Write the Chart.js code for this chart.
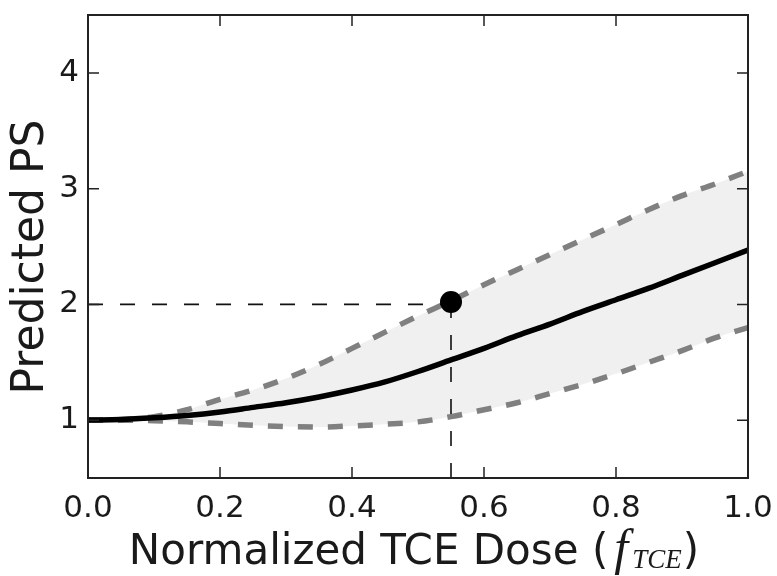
<!DOCTYPE html>
<html><head><meta charset="utf-8">
<script src="https://cdn.jsdelivr.net/npm/chart.js@4"></script>
<style>html,body{margin:0;padding:0;background:#fff}</style>
</head><body>
<canvas id="c" width="777" height="576"></canvas>
<script>
// ---- data ----
const doseValues = [0,0.05,0.1,0.15,0.2,0.25,0.3,0.35,0.4,0.45,0.5,0.55,0.6,0.65,0.7,0.75,0.8,0.85,0.9,0.95,1.0];
const meanPS  = [1.00,1.005,1.02,1.04,1.07,1.11,1.15,1.20,1.26,1.33,1.42,1.52,1.62,1.73,1.83,1.94,2.04,2.14,2.25,2.36,2.47];
const upperPS = [1.00,1.005,1.03,1.09,1.18,1.26,1.36,1.48,1.62,1.76,1.90,2.03,2.17,2.30,2.43,2.56,2.69,2.82,2.94,3.04,3.15];
const lowerPS = [1.00,1.00,0.995,0.985,0.97,0.955,0.945,0.94,0.95,0.965,0.985,1.03,1.09,1.15,1.23,1.31,1.40,1.50,1.60,1.71,1.80];
const markerDose = [0.55];
const markerPS = [2.02];
const guideLevel = [2.0];
const xTicks = [0,0.2,0.4,0.6,0.8,1.0];
const yTicks = [1,2,3,4];
const xRange = [0,1];
const yRange = [0.5,4.5];
const xTitle = 'Normalized TCE Dose (';
const xTitleMath = 'f';
const xTitleSub = 'TCE';
const xTitleEnd = ')';
const yTitle = 'Predicted PS';

const pts = (xs, ys) => xs.map((x,i)=>({x, y: ys[i]}));
const TXT = '#1a1a1a';

const framePlugin = {
  id: 'frame',
  afterDatasetsDraw(chart) {
    const {ctx, chartArea: a, scales} = chart;
    ctx.save();
    ctx.strokeStyle = '#222';
    ctx.lineWidth = 1.5;
    ctx.beginPath();
    xTicks.forEach(v => {
      const p = scales.x.getPixelForValue(v);
      ctx.moveTo(p, a.bottom); ctx.lineTo(p, a.bottom - 11);
      ctx.moveTo(p, a.top); ctx.lineTo(p, a.top + 11);
    });
    yTicks.forEach(v => {
      const p = scales.y.getPixelForValue(v);
      ctx.moveTo(a.left, p); ctx.lineTo(a.left + 11, p);
      ctx.moveTo(a.right, p); ctx.lineTo(a.right - 11, p);
    });
    ctx.stroke();
    ctx.lineWidth = 2;
    ctx.strokeRect(a.left, a.top, a.right - a.left, a.bottom - a.top);
    ctx.restore();
  },
  afterDraw(chart) {
    const {ctx, chartArea: a} = chart;
    ctx.save();
    ctx.fillStyle = TXT;
    ctx.textBaseline = 'alphabetic';
    // x title with math part
    const fMain = '42px "DejaVu Sans"';
    const fMath = 'italic 50px "Liberation Serif"';
    const fSub = 'italic 27px "Liberation Serif"';
    ctx.font = fMain; const w1 = ctx.measureText(xTitle).width; const w4 = ctx.measureText(xTitleEnd).width;
    const gapBefore = 6, wF = 18;
    ctx.font = fSub; const w3 = ctx.measureText(xTitleSub).width;
    const total = w1 + gapBefore + wF + w3 + 1 + w4;
    let x = 414 - total / 2;
    const base = 564;
    ctx.textAlign = 'left';
    ctx.font = fMain; ctx.fillText(xTitle, x, base); x += w1 + gapBefore;
    ctx.font = fMath; ctx.fillText(xTitleMath, x, base); x += wF;
    ctx.font = fSub; ctx.fillText(xTitleSub, x, base + 4); x += w3 + 1;
    ctx.font = fMain; ctx.fillText(xTitleEnd, x, base);
    // y title
    ctx.translate(43, 257);
    ctx.rotate(-Math.PI / 2);
    ctx.textAlign = 'center';
    ctx.font = '44px "DejaVu Sans"';
    ctx.fillText(yTitle, 0, 0);
    ctx.restore();
  }
};

new Chart(document.getElementById('c'), {
  type: 'line',
  data: {
    datasets: [
      { data: pts(markerDose, markerPS), showLine: false, pointRadius: 11, pointBackgroundColor: '#000', pointBorderWidth: 0, order: 0 },
      { data: [{x: xRange[0], y: guideLevel[0]}, {x: markerDose[0], y: guideLevel[0]}], borderColor: '#111', borderWidth: 1.6, borderDash: [15,17], pointRadius: 0, order: 1 },
      { data: [{x: markerDose[0], y: yRange[0]}, {x: markerDose[0], y: guideLevel[0]}], borderColor: '#111', borderWidth: 1.6, borderDash: [15,17], pointRadius: 0, order: 1 },
      { data: pts(doseValues, meanPS), borderColor: '#000', borderWidth: 5.5, pointRadius: 0, cubicInterpolationMode: 'monotone', order: 2 },
      { data: pts(doseValues, upperPS), borderColor: '#808080', borderWidth: 5.5, borderDash: [15,15], borderCapStyle: 'butt', pointRadius: 0, cubicInterpolationMode: 'monotone', fill: 5, backgroundColor: '#f0f0f0', order: 3 },
      { data: pts(doseValues, lowerPS), borderColor: '#808080', borderWidth: 5.5, borderDash: [15,15], borderCapStyle: 'butt', pointRadius: 0, cubicInterpolationMode: 'monotone', order: 3 }
    ]
  },
  options: {
    responsive: false,
    animation: false,
    events: [],
    layout: { padding: { top: 15, right: 29, left: 0, bottom: 0 } },
    plugins: { legend: { display: false }, tooltip: { enabled: false }, filler: { drawTime: 'beforeDatasetsDraw', propagate: false } },
    scales: {
      x: {
        type: 'linear', min: xRange[0], max: xRange[1],
        afterBuildTicks: s => { s.ticks = xTicks.map(v => ({value: v})); },
        afterFit: s => { s.height = 98; s.paddingLeft = 0; s.paddingRight = 0; s.paddingTop = 0; s.paddingBottom = 0; },
        grid: { display: false, drawTicks: false }, border: { display: false },
        ticks: { padding: 12, color: TXT, font: { family: 'DejaVu Sans', size: 31 }, callback: v => Number(v).toFixed(1), maxRotation: 0, autoSkip: false }
      },
      y: {
        type: 'linear', min: yRange[0], max: yRange[1],
        afterBuildTicks: s => { s.ticks = yTicks.map(v => ({value: v})); },
        afterFit: s => { s.width = 88; s.paddingLeft = 0; s.paddingRight = 0; s.paddingTop = 0; s.paddingBottom = 0; },
        grid: { display: false, drawTicks: false }, border: { display: false },
        ticks: { padding: 9, color: TXT, font: { family: 'DejaVu Sans', size: 31 }, callback: v => String(v), autoSkip: false }
      }
    }
  },
  plugins: [framePlugin]
});
</script>
</body></html>
